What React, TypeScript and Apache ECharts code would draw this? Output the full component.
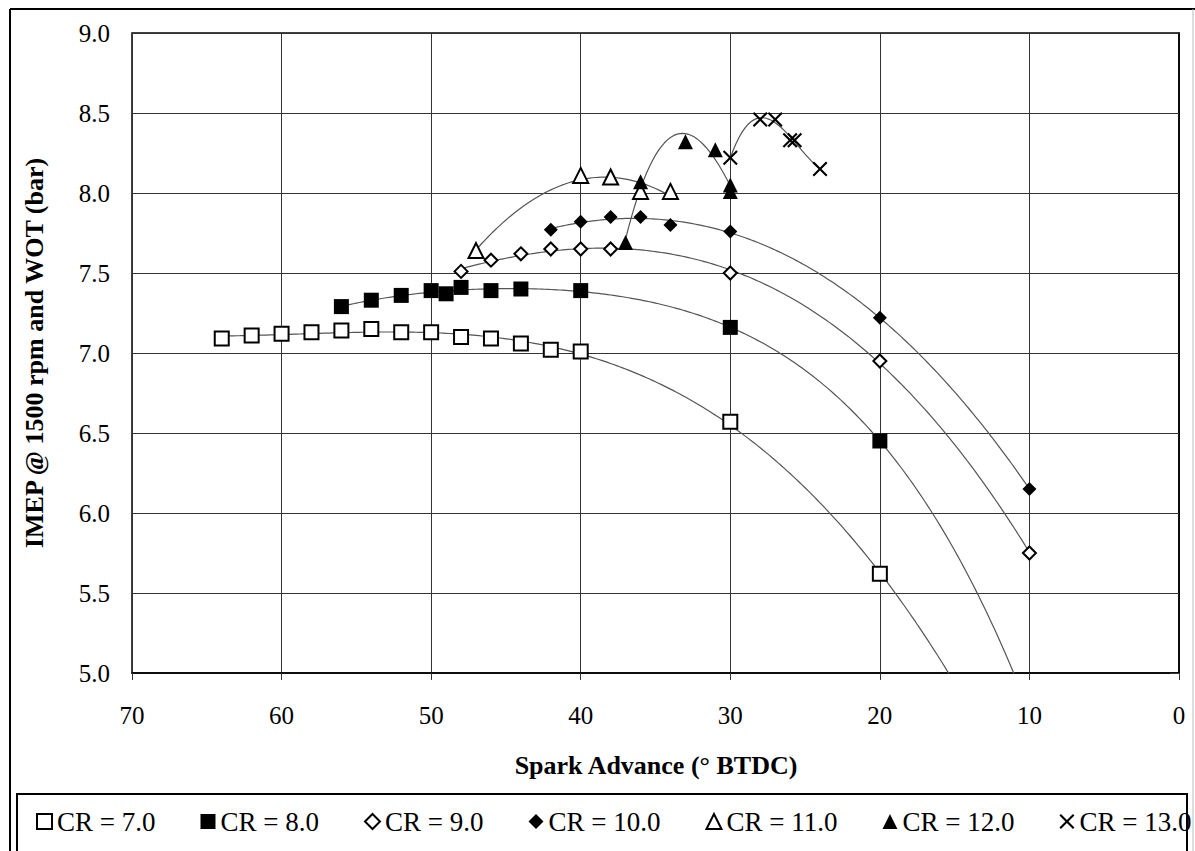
import React, { useEffect, useRef } from "react";
import * as echarts from "echarts";

// ---- data ----
const seriesNames = ["CR = 7.0", "CR = 8.0", "CR = 9.0", "CR = 10.0", "CR = 11.0", "CR = 12.0", "CR = 13.0"];

const cr7X = [64, 62, 60, 58, 56, 54, 52, 50, 48, 46, 44, 42, 40, 30, 20];
const cr7Y = [7.09, 7.11, 7.12, 7.13, 7.14, 7.15, 7.13, 7.13, 7.10, 7.09, 7.06, 7.02, 7.01, 6.57, 5.62];

const cr8X = [56, 54, 52, 50, 49, 48, 46, 44, 40, 30, 20];
const cr8Y = [7.29, 7.33, 7.36, 7.39, 7.37, 7.41, 7.39, 7.40, 7.39, 7.16, 6.45];

const cr9X = [48, 46, 44, 42, 40, 38, 30, 20, 10];
const cr9Y = [7.51, 7.58, 7.62, 7.65, 7.65, 7.65, 7.50, 6.95, 5.75];

const cr10X = [42, 40, 38, 36, 34, 30, 20, 10];
const cr10Y = [7.77, 7.82, 7.85, 7.85, 7.80, 7.76, 7.22, 6.15];

const cr11X = [47, 40, 38, 36, 34];
const cr11Y = [7.64, 8.11, 8.10, 8.01, 8.01];

const cr12X = [37, 36, 33, 31, 30, 30];
const cr12Y = [7.69, 8.07, 8.32, 8.27, 8.05, 8.01];

const cr13X = [30, 28, 27, 26, 25.7, 24];
const cr13Y = [8.22, 8.46, 8.46, 8.33, 8.33, 8.15];

const allX = [cr7X, cr8X, cr9X, cr10X, cr11X, cr12X, cr13X];
const allY = [cr7Y, cr8Y, cr9Y, cr10Y, cr11Y, cr12Y, cr13Y];

// polynomial trendline order and where each trendline ends (forecast)
const trendOrder = [3, 4, 3, 3, 2, 3, 3];
const trendEndX = [10, 10, 10, 10, 34, 30, 24];

const xMin = 0, xMax = 70, xStep = 10;
const yMin = 5, yMax = 9, yStep = 0.5;

// least-squares polynomial fit (trendline), computed from the data
function polyFit(xs: number[], ys: number[], order: number) {
  const n = xs.length;
  const mean = xs.reduce((a, b) => a + b, 0) / n;
  const sc = 10;
  const u = xs.map((x) => (x - mean) / sc);
  const m = order + 1;
  const A: number[][] = Array.from({ length: m }, () => new Array(m + 1).fill(0));
  for (let r = 0; r < m; r++) {
    for (let c = 0; c < m; c++) {
      let s = 0;
      for (let i = 0; i < n; i++) s += Math.pow(u[i], r + c);
      A[r][c] = s;
    }
    let s = 0;
    for (let i = 0; i < n; i++) s += ys[i] * Math.pow(u[i], r);
    A[r][m] = s;
  }
  for (let col = 0; col < m; col++) {
    let piv = col;
    for (let r = col + 1; r < m; r++) if (Math.abs(A[r][col]) > Math.abs(A[piv][col])) piv = r;
    const tmp = A[col]; A[col] = A[piv]; A[piv] = tmp;
    for (let r = 0; r < m; r++) {
      if (r === col) continue;
      const f = A[r][col] / A[col][col];
      for (let c = col; c <= m; c++) A[r][c] -= f * A[col][c];
    }
  }
  const coef = A.map((row, i) => row[m] / row[i]);
  return (x: number) => {
    const t = (x - mean) / sc;
    let y = 0;
    for (let k = m - 1; k >= 0; k--) y = y * t + coef[k];
    return y;
  };
}

function trendData(idx: number) {
  const xs = allX[idx], ys = allY[idx];
  const f = polyFit(xs, ys, trendOrder[idx]);
  const start = Math.max(...xs);
  const end = trendEndX[idx];
  const pts: number[][] = [];
  for (let x = start; x > end; x -= 0.2) pts.push([x, f(x)]);
  pts.push([end, f(end)]);
  return pts;
}

const X_PATH = "path://M2,0 L10,8 L18,0 L20,2 L12,10 L20,18 L18,20 L10,12 L2,20 L0,18 L8,10 L0,2 Z";

const symbolDefs = [
  { symbol: "rect", size: 14, fill: "#fff", bw: 2 },
  { symbol: "rect", size: 15, fill: "#000", bw: 0 },
  { symbol: "diamond", size: 13, fill: "#fff", bw: 2 },
  { symbol: "diamond", size: 14, fill: "#000", bw: 0 },
  { symbol: "triangle", size: 15, fill: "#fff", bw: 2 },
  { symbol: "triangle", size: 15, fill: "#000", bw: 0 },
  { symbol: X_PATH, size: 15, fill: "#000", bw: 0 },
];

const FONT = "'Liberation Serif', 'Times New Roman', serif";

export default function App() {
  const ref = useRef<HTMLDivElement>(null);
  useEffect(() => {
    if (!ref.current) return;
    const chart = echarts.init(ref.current, undefined, { renderer: "svg" });

    const lineSeries = seriesNames.map((name, i) => ({
      name: name + " trend",
      type: "line",
      data: trendData(i),
      showSymbol: false,
      symbol: "none",
      silent: true,
      clip: true,
      z: 1,
      lineStyle: { color: "#555", width: 1.2 },
    }));

    const scatterSeries = seriesNames.map((name, i) => ({
      name,
      type: "scatter",
      data: allX[i].map((x, j) => [x, allY[i][j]]),
      symbol: symbolDefs[i].symbol,
      symbolSize: symbolDefs[i].size,
      z: 3,
      itemStyle: {
        color: symbolDefs[i].fill,
        borderColor: "#000",
        borderWidth: symbolDefs[i].bw,
        opacity: 1,
      },
    }));

    chart.setOption({
      animation: false,
      backgroundColor: "#fff",
      grid: {
        left: 132,
        top: 33,
        width: 1047,
        height: 640,
        show: true,
        borderColor: "#000",
        borderWidth: 1.5,
        backgroundColor: "transparent",
      },
      xAxis: {
        type: "value",
        min: xMin,
        max: xMax,
        interval: xStep,
        inverse: true,
        axisLine: { show: true, lineStyle: { color: "#000", width: 1.5 } },
        axisTick: { show: true, length: 7, lineStyle: { color: "#333" } },
        axisLabel: { color: "#000", fontFamily: FONT, fontSize: 25, margin: 30 },
        splitLine: { show: true, lineStyle: { color: "#333", width: 1 } },
      },
      yAxis: {
        type: "value",
        min: yMin,
        max: yMax,
        interval: yStep,
        axisLine: { show: true, lineStyle: { color: "#000", width: 1.5 } },
        axisTick: { show: true, length: 9, lineStyle: { color: "#333" } },
        axisLabel: {
          color: "#000",
          fontFamily: FONT,
          fontSize: 25,
          margin: 22,
          formatter: (v: number) => v.toFixed(1),
        },
        splitLine: { show: true, lineStyle: { color: "#333", width: 1 } },
      },
      legend: {
        data: seriesNames,
        left: 36,
        top: 808,
        padding: 0,
        itemWidth: 15,
        itemHeight: 15,
        itemGap: 45,
        textStyle: { color: "#000", fontFamily: FONT, fontSize: 27 },
      },
      graphic: [
        { type: "line", shape: { x1: 10, y1: 9, x2: 1195, y2: 9 }, style: { stroke: "#000", lineWidth: 2 } },
        { type: "line", shape: { x1: 10, y1: 9, x2: 10, y2: 851 }, style: { stroke: "#000", lineWidth: 2 } },
        { type: "line", shape: { x1: 1193, y1: 9, x2: 1193, y2: 851 }, style: { stroke: "#bbb", lineWidth: 1 } },
        {
          type: "rect",
          shape: { x: 17, y: 794, width: 1170, height: 80 },
          style: { fill: "none", stroke: "#000", lineWidth: 2 },
        },
        {
          type: "text",
          x: 656,
          y: 765,
          style: {
            text: "Spark Advance (° BTDC)",
            fontFamily: FONT,
            fontSize: 26,
            fontWeight: "bold",
            fill: "#000",
            align: "center",
            verticalAlign: "middle",
          },
        },
        {
          type: "text",
          x: 34,
          y: 353,
          rotation: Math.PI / 2,
          style: {
            text: "IMEP @ 1500 rpm and WOT (bar)",
            fontFamily: FONT,
            fontSize: 26,
            fontWeight: "bold",
            fill: "#000",
            align: "center",
            verticalAlign: "middle",
          },
        },
      ],
      series: [...lineSeries, ...scatterSeries],
    });

    return () => chart.dispose();
  }, []);

  return (
    <div
      ref={ref}
      style={{ position: "absolute", left: 0, top: 0, width: 1195, height: 851, background: "#fff" }}
    />
  );
}
